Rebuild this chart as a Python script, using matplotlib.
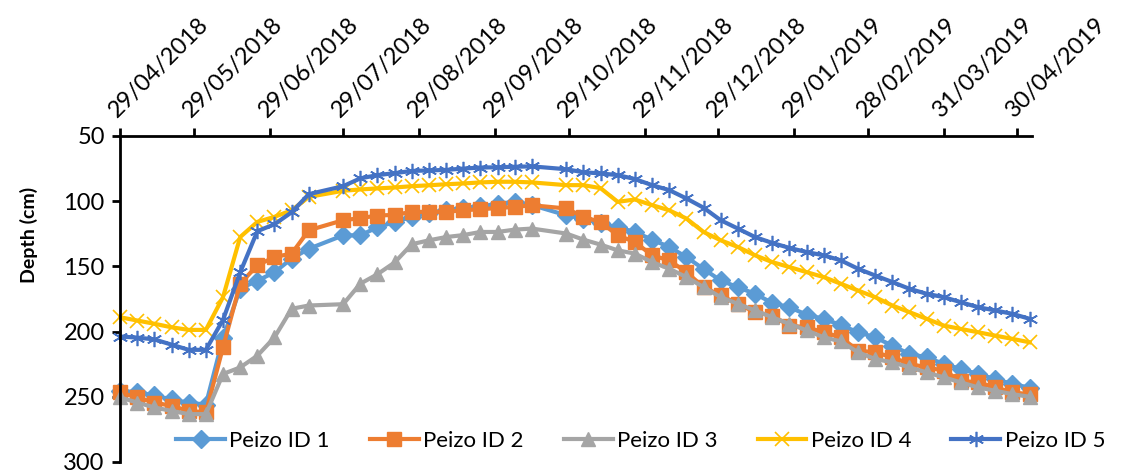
import matplotlib.pyplot as plt
import matplotlib.dates as mdates
import pandas as pd

plt.rcParams['font.family'] = ['Lato', 'DejaVu Sans']

# measurement dates (weekly, with two gaps)
dates = pd.to_datetime([
    '2018-04-29', '2018-05-06', '2018-05-13', '2018-05-20', '2018-05-27', '2018-06-03',
    '2018-06-10', '2018-06-17', '2018-06-24', '2018-07-01', '2018-07-08', '2018-07-15',
    '2018-07-29', '2018-08-05', '2018-08-12', '2018-08-19', '2018-08-26', '2018-09-02',
    '2018-09-09', '2018-09-16', '2018-09-23', '2018-09-30', '2018-10-07', '2018-10-14',
    '2018-10-28', '2018-11-04', '2018-11-11', '2018-11-18', '2018-11-25', '2018-12-02',
    '2018-12-09', '2018-12-16', '2018-12-23', '2018-12-30', '2019-01-06', '2019-01-13',
    '2019-01-20', '2019-01-27', '2019-02-03', '2019-02-10', '2019-02-17', '2019-02-24',
    '2019-03-03', '2019-03-10', '2019-03-17', '2019-03-24', '2019-03-31', '2019-04-07',
    '2019-04-14', '2019-04-21', '2019-04-28', '2019-05-05'])

peizo_1 = [245.5, 246.5, 249, 252, 254.5, 256, 205, 167, 161, 154.5, 144, 136.5,
           126.2, 126.2, 120, 116, 112, 109, 107, 105, 104, 102, 100.5, 103,
           110.8, 113.5, 117, 120, 123.6, 129.5, 135.1, 142.8, 152, 160.8, 166, 171,
           178, 181.3, 187, 190.2, 195, 200.5, 204.4, 210.8, 217.2, 219.7, 224.8, 228.7,
           232.5, 236.4, 240.2, 243]
peizo_2 = [246.7, 250.5, 254.4, 257, 260.8, 262, 212, 163.3, 149.2, 142.8, 140.2, 122.3,
           114.6, 113, 111, 110.5, 108.2, 108.2, 108.2, 106.9, 106.2, 105.2, 104.4, 103.1,
           105.6, 112, 116, 126.2, 131.3, 141.5, 145.4, 154.4, 165.9, 172.3, 178.7, 185.1,
           187.7, 195.4, 196.7, 200.5, 204.4, 214.6, 215.9, 219.7, 224.8, 227.4, 230, 237.7,
           239, 242.8, 246.7, 248]
peizo_3 = [250.5, 254.4, 258.2, 260.8, 263.3, 263.3, 232.5, 227.5, 218.5, 204.4, 182.5, 180,
           179, 163.3, 156, 147, 133, 130, 127.5, 126, 123.6, 123.6, 121.8, 121,
           124.8, 129.5, 133.3, 137.7, 140.2, 146.7, 151.8, 158.2, 165.9, 173.6, 178.7, 183.8,
           189, 194.1, 199, 204.4, 207.5, 215.9, 221, 223.6, 227.4, 231.3, 235.1, 239,
           242.8, 245.4, 248, 250]
peizo_4 = [189, 191.5, 194, 196.7, 198.7, 198.7, 173.6, 127.5, 115.9, 112, 107, 96.7,
           92, 91, 90.2, 89.5, 88.5, 87.8, 87, 86.4, 85.6, 85.1, 85.1, 85.6,
           87.7, 87.7, 90, 100.5, 98.7, 103, 107, 113.3, 123.6, 130, 135.1, 141.5,
           146.7, 150.5, 154.4, 158.2, 163.3, 168.5, 173.6, 180, 185.1, 190.2, 195.4, 198,
           200.5, 203.1, 205.6, 208.2]
peizo_5 = [203.8, 204.6, 206, 210, 214, 214, 191, 154.6, 123, 117.7, 108.5, 94.6,
           88.5, 82.5, 80, 78.5, 76.8, 76.4, 76, 75, 74.2, 74, 73.6, 73.3,
           75.5, 77.8, 78.7, 80, 83, 87.7, 91.5, 97.9, 105, 114.6, 121, 127.5,
           132, 135.8, 139, 141.5, 145.4, 151.8, 157, 162, 167.2, 171, 173.6, 177.5,
           181.3, 183.8, 186.4, 190.2]

tick_dates = pd.to_datetime([
    '2018-04-29', '2018-05-29', '2018-06-29', '2018-07-29', '2018-08-29', '2018-09-29',
    '2018-10-29', '2018-11-29', '2018-12-29', '2019-01-29', '2019-02-28', '2019-03-31',
    '2019-04-30'])
y_ticks = [50, 100, 150, 200, 250, 300]

fig = plt.figure(figsize=(11.24, 4.75), dpi=100)
ax = fig.add_axes([0.1068, 0.0274, 0.8114, 0.6863])

asterisk = (6, 2, 0)
series = [
    ('Peizo ID 1', peizo_1, '#5B9BD5', 'D', 9, 1),
    ('Peizo ID 2', peizo_2, '#ED7D31', 's', 10, 1),
    ('Peizo ID 3', peizo_3, '#A5A5A5', '^', 10, 1),
    ('Peizo ID 4', peizo_4, '#FFC000', 'x', 10, 1.2),
    ('Peizo ID 5', peizo_5, '#4472C4', asterisk, 11, 1.2),
]
for name, vals, col, mk, ms, mew in series:
    ax.plot(dates, vals, color=col, lw=3, marker=mk, markersize=ms,
            markeredgewidth=mew, markeredgecolor=col, markerfacecolor=col,
            label=name, clip_on=False)

ax.set_ylim(300, 50)
ax.set_yticks(y_ticks)
ax.set_xlim(pd.Timestamp('2018-04-29'), pd.Timestamp('2019-05-06'))
ax.xaxis.tick_top()
ax.set_xticks(tick_dates)
ax.xaxis.set_major_formatter(mdates.DateFormatter('%d/%m/%Y'))
for lab in ax.get_xticklabels():
    lab.set_rotation(45)
    lab.set_ha('left')
    lab.set_va('bottom')
    lab.set_rotation_mode('anchor')

ax.tick_params(axis='both', direction='out', length=6, width=2, labelsize=17, color='black')
ax.tick_params(axis='x', pad=5)
ax.tick_params(axis='y', pad=5)
for s in ['right', 'bottom']:
    ax.spines[s].set_visible(False)
for s in ['left', 'top']:
    ax.spines[s].set_linewidth(2)

ax.set_ylabel('Depth (cm)', fontsize=14, fontweight='bold')
ax.yaxis.set_label_coords(-0.09, 0.695)

fig.legend(loc='center', bbox_to_anchor=(0.57, 0.072), ncol=5, frameon=False,
           fontsize=16, handlelength=2.2, handletextpad=0.2, columnspacing=1.8)

fig.savefig('out.png', dpi=100)
